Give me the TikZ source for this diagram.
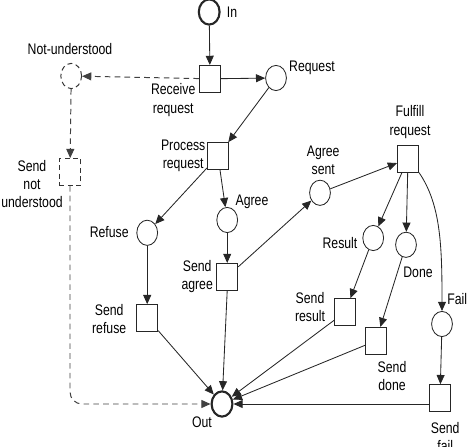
\documentclass[tikz,border=0pt]{standalone}
\usepackage{fontspec}
\setmainfont{Liberation Sans}[FakeStretch=0.8]
\usetikzlibrary{arrows.meta}
\tikzset{
  pn place/.style={draw=black!85,ellipse,line width=0.6pt,minimum width=0.52cm,minimum height=0.63cm,inner sep=0pt},
  pn end/.style={pn place,line width=1.5pt},
  pn trans/.style={draw=black!85,rectangle,line width=0.6pt,minimum width=0.53cm,minimum height=0.67cm,inner sep=0pt},
  pn ghost/.style={draw=black!80,line width=0.7pt,dashed,dash pattern=on 3.5pt off 2.5pt},
  pn label/.style={font=\fontsize{10.9}{13}\selectfont,align=center,inner sep=0pt},
  pn arc/.style={draw=black!85,line width=0.6pt,-{Triangle[length=2.3mm,width=2mm]}},
  pn dashed arc/.style={pn arc,draw=black!75,line width=0.7pt,dashed,dash pattern=on 4pt off 3pt}
}
\usetikzlibrary{shapes.geometric}

\begin{document}
\begin{tikzpicture}
        \useasboundingbox (0,0) rectangle (11.675,11.15);

        \node[pn end] (in) at (5.23,10.85) {};
        \node[pn trans] (recv) at (5.25,9.18) {};
        \node[pn place,pn ghost] (notund) at (1.78,9.25) {};
        \node[pn place] (request) at (6.90,9.20) {};
        \node[pn trans] (proc) at (5.45,7.25) {};
        \node[pn trans,pn ghost] (sendnu) at (1.75,6.85) {};
        \node[pn place] (agreesent) at (8.00,6.33) {};
        \node[pn trans] (fulfill) at (10.20,7.18) {};
        \node[pn place] (refuse) at (3.68,5.33) {};
        \node[pn place] (agree) at (5.68,5.65) {};
        \node[pn trans] (sendagree) at (5.68,4.23) {};
        \node[pn trans] (sendrefuse) at (3.68,3.20) {};
        \node[pn end] (out) at (5.55,1.05) {};
        \node[pn place] (result) at (9.33,5.20) {};
        \node[pn place] (done) at (10.15,5.03) {};
        \node[pn place] (fail) at (11.05,3.05) {};
        \node[pn trans] (sendresult) at (8.63,3.35) {};
        \node[pn trans] (senddone) at (9.40,2.63) {};
        \node[pn trans] (sendfail) at (11.00,1.20) {};

        \node[pn label] (lin) at (5.80,10.85) {In};
        \node[pn label] (lnotund) at (1.75,9.93) {Not-understood};
        \node[pn label] (lrecv) at (4.33,8.65) {Receive\\request};
        \node[pn label] (lrequest) at (7.80,9.45) {Request};
        \node[pn label] (lproc) at (4.58,7.25) {Process\\request};
        \node[pn label] (lsendnu) at (0.80,6.55) {Send\\not\\understood};
        \node[pn label] (lfulfill) at (10.25,8.10) {Fulfill\\request};
        \node[pn label] (lagreesent) at (8.08,7.15) {Agree\\sent};
        \node[pn label] (lagree) at (6.30,6.10) {Agree};
        \node[pn label] (lrefuse) at (2.73,5.35) {Refuse};
        \node[pn label] (lsendagree) at (4.93,4.23) {Send\\agree};
        \node[pn label] (lsendrefuse) at (2.73,3.18) {Send\\refuse};
        \node[pn label] (lout) at (5.05,0.60) {Out};
        \node[pn label] (lresult) at (8.50,5.08) {Result};
        \node[pn label] (ldone) at (10.45,4.35) {Done};
        \node[pn label] (lfail) at (11.43,3.68) {Fail};
        \node[pn label] (lsendresult) at (7.75,3.48) {Send\\result};
        \node[pn label] (lsenddone) at (9.80,1.75) {Send\\done};
        \node[pn label] (lsendfail) at (11.13,0.23) {Send\\fail};

        \draw[pn arc] (in) -- (recv);
        \draw[pn arc] (recv) -- (request);
        \draw[pn dashed arc] (recv) -- (notund);
        \draw[pn dashed arc] (notund) -- (sendnu);
        \draw[pn dashed arc,rounded corners=0.3cm] (sendnu) |- (out);
        \draw[pn arc] (request) -- (proc);
        \draw[pn arc] (proc) -- (refuse);
        \draw[pn arc] (proc) -- (agree);
        \draw[pn arc] (agree) -- (sendagree);
        \draw[pn arc] (refuse) -- (sendrefuse);
        \draw[pn arc] (sendagree) -- (agreesent);
        \draw[pn arc] (agreesent) -- (fulfill);
        \draw[pn arc] (fulfill) -- (result);
        \draw[pn arc] (fulfill) -- (done);
        \draw[pn arc] (fulfill.south east) .. controls +(0.55,-0.8) and +(0,1.6) .. (fail.north);
        \draw[pn arc] (result) -- (sendresult);
        \draw[pn arc] (done) -- (senddone);
        \draw[pn arc] (fail) -- (sendfail);
        \draw[pn arc] (sendrefuse) -- (out);
        \draw[pn arc] (sendagree.south) -- (out);
        \draw[pn arc] (sendresult) -- (out);
        \draw[pn arc] (senddone) -- (out);
        \draw[pn arc] (sendfail.west |- out.east) -- (out.east);
      \end{tikzpicture}
\end{document}
